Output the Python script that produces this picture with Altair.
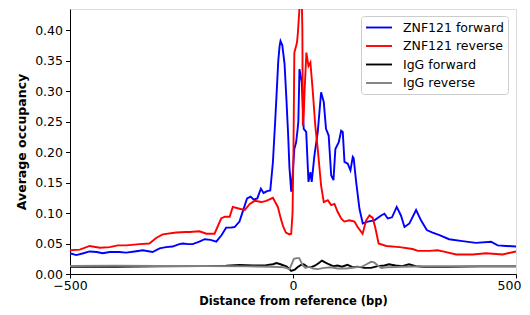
import altair as alt
import pandas as pd

series_names = ["ZNF121 forward", "ZNF121 reverse", "IgG forward", "IgG reverse"]
series_colors = ["#0000ff", "#ff0000", "#000000", "#808080"]

blue_bp = [-500, -486, -470, -456, -440, -427, -411, -390, -374, -355, -337, -315, -299, -285,
           -270, -255, -247, -235, -225, -210, -198, -185, -172, -160, -150, -140, -131, -120,
           -112, -103, -95, -88, -80, -72, -66, -58, -51, -48, -45, -40, -37, -33, -30, -28,
           -24, -19, -15, -11, -8, -4, -1, 3, 7, 10, 12, 14.5, 19.7, 24, 29.6, 34.7, 39, 42,
           48, 55.5, 63, 69, 74, 80, 85.6, 90.7, 95, 102.6, 108, 111.6, 115.4, 122.7, 128.8,
           134, 136, 141.6, 149, 156.4, 167.6, 182.6, 197.6, 205, 212.4, 222, 232.5, 242,
           250, 261, 276, 287, 300, 313, 327, 350, 380, 410, 444, 459, 478, 500]
blue_val = [0.034, 0.031, 0.034, 0.037, 0.036, 0.034, 0.036, 0.036, 0.035, 0.037, 0.039, 0.036,
            0.042, 0.044, 0.045, 0.049, 0.050, 0.049, 0.049, 0.053, 0.057, 0.056, 0.053, 0.064,
            0.076, 0.076, 0.077, 0.086, 0.104, 0.124, 0.127, 0.122, 0.124, 0.140, 0.133, 0.136,
            0.137, 0.160, 0.184, 0.250, 0.292, 0.350, 0.374, 0.382, 0.375, 0.345, 0.290, 0.230,
            0.175, 0.135, 0.160, 0.205, 0.216, 0.235, 0.250, 0.336, 0.315, 0.238, 0.233, 0.151,
            0.167, 0.151, 0.194, 0.233, 0.298, 0.282, 0.238, 0.227, 0.162, 0.154, 0.205, 0.216,
            0.235, 0.233, 0.184, 0.181, 0.170, 0.192, 0.190, 0.151, 0.107, 0.083, 0.086, 0.088,
            0.096, 0.099, 0.091, 0.093, 0.110, 0.096, 0.077, 0.083, 0.105, 0.088, 0.072, 0.068,
            0.064, 0.057, 0.054, 0.051, 0.053, 0.047, 0.046, 0.045]

red_bp = [-500, -478, -456, -433, -411, -393, -374, -344, -322, -307, -292, -262, -240, -232,
          -210, -194, -176, -161, -153, -142, -135, -120, -108, -97, -86, -71, -60, -45, -34,
          -27, -22, -16, -8, -4, -1, 1, 3, 7, 9, 11, 14, 16, 19.7, 21, 22, 24, 26, 30, 34.7,
          39, 44, 50, 55.5, 63, 69, 78, 85.6, 93, 100, 108, 115, 126.6, 137.8, 145, 156, 164,
          171.4, 178.8, 184.8, 192, 209, 239, 268, 280, 306, 324, 336, 366, 403, 433, 470, 500]
red_val = [0.039, 0.040, 0.046, 0.043, 0.044, 0.047, 0.047, 0.049, 0.050, 0.059, 0.065, 0.068,
           0.069, 0.069, 0.070, 0.066, 0.066, 0.091, 0.094, 0.094, 0.110, 0.107, 0.105, 0.115,
           0.120, 0.118, 0.120, 0.125, 0.110, 0.090, 0.078, 0.068, 0.065, 0.066, 0.100, 0.200,
           0.363, 0.374, 0.380, 0.396, 0.430, 0.450, 0.450, 0.400, 0.243, 0.260, 0.300, 0.363,
           0.341, 0.347, 0.303, 0.243, 0.205, 0.145, 0.118, 0.121, 0.113, 0.115, 0.102, 0.091,
           0.086, 0.088, 0.086, 0.077, 0.066, 0.088, 0.096, 0.092, 0.075, 0.050, 0.046, 0.044,
           0.041, 0.038, 0.038, 0.039, 0.037, 0.032, 0.032, 0.034, 0.032, 0.037]

igg_f_bp = [-500, -400, -300, -200, -150, -120, -90, -60, -45, -37, -28, -14, -4, 4, 10, 18, 24,
            32, 40, 50, 58, 65, 72, 80, 90, 100, 110, 122, 135, 145, 160, 175, 190, 205, 215,
            230, 245, 260, 275, 290, 350, 420, 500]
igg_f_val = [0.012, 0.012, 0.0125, 0.013, 0.0135, 0.015, 0.014, 0.0145, 0.016, 0.018, 0.016,
             0.012, 0.005, 0.007, 0.011, 0.015, 0.016, 0.012, 0.011, 0.014, 0.018, 0.022, 0.019,
             0.016, 0.013, 0.014, 0.012, 0.015, 0.011, 0.012, 0.010, 0.010, 0.013, 0.014, 0.016,
             0.014, 0.013, 0.016, 0.013, 0.012, 0.012, 0.0125, 0.0125]

igg_r_bp = [-500, -400, -300, -200, -100, -50, -20, -8, -2, 2, 8, 14, 18, 22, 28, 36, 45, 55,
            70, 85, 100, 120, 140, 155, 165, 175, 182, 190, 198, 210, 250, 300, 400, 500]
igg_r_val = [0.013, 0.0135, 0.013, 0.013, 0.0125, 0.012, 0.011, 0.008, 0.018, 0.025, 0.026,
             0.026, 0.020, 0.014, 0.010, 0.012, 0.009, 0.008, 0.010, 0.011, 0.009, 0.009, 0.011,
             0.012, 0.016, 0.020, 0.019, 0.014, 0.010, 0.011, 0.012, 0.0125, 0.0125, 0.0125]

x_ticks = [-500, 0, 500]
y_ticks = [0.0, 0.05, 0.10, 0.15, 0.20, 0.25, 0.30, 0.35, 0.40]

frames = []
for name, bps, vals in [
    (series_names[0], blue_bp, blue_val),
    (series_names[1], red_bp, red_val),
    (series_names[2], igg_f_bp, igg_f_val),
    (series_names[3], igg_r_bp, igg_r_val),
]:
    frames.append(pd.DataFrame({"bp": bps, "val": vals, "series": name, "order": range(len(bps))}))
df = pd.concat(frames, ignore_index=True)

FONT = "DejaVu Sans"

x_enc = alt.X("bp:Q",
              scale=alt.Scale(domain=[-500, 500], nice=False, zero=False),
              axis=alt.Axis(values=x_ticks, title="Distance from reference (bp)",
                            grid=False, tickSize=4, labelPadding=1,
                            labelOffset={"expr": "datum.value == 500 ? -7 : 0"},
                            titleY=30.3, titleBaseline="alphabetic",
                            labelFontSize=12.5, titleFontSize=11.5, titleFontWeight="bold",
                            labelFont=FONT, titleFont=FONT, labelColor="black", titleColor="black",
                            domainColor="black", tickColor="black", labelFlush=False))
y_enc = alt.Y("val:Q",
              scale=alt.Scale(domain=[0, 0.4346], nice=False, zero=False),
              axis=alt.Axis(values=y_ticks, format=".2f", title="Average occupancy",
                            grid=False, tickSize=4.5, labelPadding=3, titlePadding=6,
                            labelFontSize=12.5, titleFontSize=12.5, titleFontWeight="bold",
                            labelFont=FONT, titleFont=FONT, labelColor="black", titleColor="black",
                            domainColor="black", tickColor="black", labelFlush=False))
color_enc = alt.Color("series:N",
                      scale=alt.Scale(domain=series_names, range=series_colors),
                      sort=series_names,
                      legend=alt.Legend(title=None, orient="none", legendX=291, legendY=7,
                                        symbolType="M-1,0L3,0", symbolSize=169, symbolStrokeWidth=1.9,
                                        labelFont=FONT, labelFontSize=12.5, labelColor="black",
                                        labelOffset=23, padding=4, rowPadding=4.5,
                                        strokeColor="#cccccc", fillColor="white", cornerRadius=3))

layers = []
for name in series_names:
    layers.append(
        alt.Chart(df).transform_filter(alt.datum.series == name)
        .mark_line(strokeWidth=1.9, clip=True)
        .encode(x=x_enc, y=y_enc, color=color_enc, order="order:Q")
    )

chart = alt.layer(*layers).properties(
    width=446, height=265,
    padding={"left": 62, "top": 1, "right": 6, "bottom": 33},
    autosize=alt.AutoSizeParams(type="none"),
).configure_view(stroke="black", strokeWidth=1).configure(background="white")

chart.save("out.html", embed_options={"renderer": "svg", "actions": False})
